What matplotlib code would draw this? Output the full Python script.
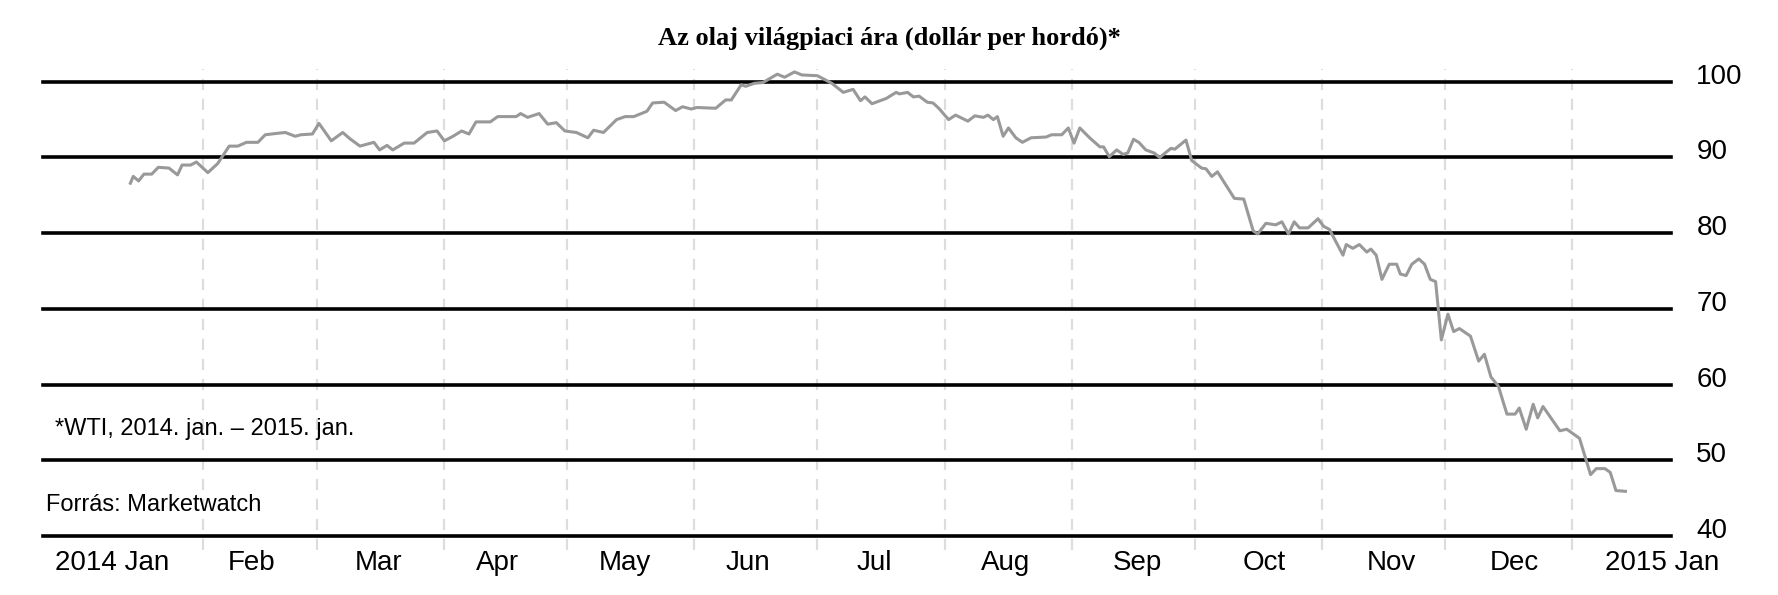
import matplotlib.pyplot as plt
import matplotlib.transforms as mtransforms
import numpy as np

# WTI price (day of 2014, USD per barrel)
days = [13.4, 14.1, 15.4, 16.7, 18.6, 20.2, 22.8, 24.9, 26, 28.1, 29.5, 32.3, 34.7, 37.5, 39.6,
        41.7, 44.5, 46.3, 49.4, 51.2, 53.6, 55, 57.8, 59.4, 62.4, 65.2, 66.9, 69.4, 72.8, 74.2,
        76, 77.4, 80.2, 82.6, 85.8, 88.2, 90, 92.1, 94.2, 96, 97.7, 101.2, 103, 107.5, 108.6,
        110.3, 113.1, 115.2, 117.3, 119.4, 122.2, 125, 126.4, 128.8, 132, 134.1, 136.2, 139.4,
        140.8, 143.6, 146.4, 148.1, 150.2, 151.6, 156.2, 158.6, 160, 162.4, 163.5, 165.6, 167.7,
        171.2, 173, 175.4, 177.2, 181, 184.5, 187.3, 189.7, 191.5, 192.6, 194.3, 197.8, 200.2,
        201, 203, 204.4, 205.8, 207.8, 209.2, 210.6, 213, 214.7, 217.7, 219.4, 221.5, 222.6,
        223.9, 224.9, 226.3, 227.6, 229.4, 231, 233.1, 236.8, 238.1, 240.6, 242.2, 243.6, 245,
        247.4, 249.9, 250.8, 252.2, 254, 255.6, 256.7, 258.1, 259.4, 261.1, 263.1, 264.5, 267.2,
        268.2, 270.9, 272.3, 274.7, 275.8, 277.2, 278.6, 282.7, 285, 287.3, 288.4, 290.4, 292.8,
        294.3, 295.9, 297.3, 298.6, 300.7, 303.1, 304.5, 305.9, 309.2, 310, 311.6, 313.2, 315,
        316, 317.3, 318.7, 320.5, 322.3, 323.2, 324.6, 326, 327.7, 329.1, 330.5, 331.8, 333.2,
        334.8, 336.2, 337.6, 340.3, 342.3, 343.7, 345.3, 347.1, 349.2, 351.2, 352.2, 353.9,
        355.6, 356.7, 358, 362.1, 363.8, 366.9, 369.6, 371, 373.1, 374.4, 375.8, 378.1]
price = [86.6, 87.5, 86.9, 87.8, 87.8, 88.7, 88.6, 87.7, 89, 89, 89.4, 88, 89.2, 91.5, 91.5,
         92, 92, 93, 93.2, 93.3, 92.8, 93, 93.1, 94.5, 92.2, 93.3, 92.5, 91.5, 92, 91,
         91.6, 91, 91.9, 91.9, 93.3, 93.5, 92.2, 92.8, 93.5, 93.1, 94.7, 94.7, 95.4, 95.4, 95.8,
         95.3, 95.8, 94.4, 94.6, 93.5, 93.3, 92.6, 93.6, 93.3, 95, 95.4, 95.4, 96.1,
         97.2, 97.3, 96.2, 96.7, 96.4, 96.6, 96.5, 97.6, 97.6, 99.6, 99.4, 99.8, 99.9,
         101, 100.6, 101.3, 100.9, 100.8, 99.8, 98.6, 99, 97.5, 98, 97.1, 97.8, 98.6,
         98.4, 98.6, 98, 98.1, 97.3, 97.2, 96.5, 95, 95.6, 94.8, 95.5, 95.3, 95.6,
         95, 95.4, 92.8, 93.9, 92.6, 92, 92.6, 92.7, 93, 93, 93.9, 91.9, 93.9,
         92.6, 91.4, 91.4, 90.1, 91, 90.4, 90.6, 92.4, 92, 91, 90.6, 90, 91.2,
         91.1, 92.3, 89.6, 88.6, 88.5, 87.5, 88.1, 84.6, 84.5, 80.3, 79.9, 81.3, 81.1,
         81.5, 79.9, 81.5, 80.7, 80.7, 81.9, 80.9, 80.5, 77.1, 78.5, 78, 78.5, 77.5,
         77.9, 77.1, 73.9, 75.9, 75.9, 74.6, 74.4, 75.9, 76.6, 75.9, 73.9, 73.6, 65.9,
         69.3, 67, 67.4, 66.4, 63.1, 64, 61, 59.8, 56.1, 56.1, 56.9, 54.1,
         57.4, 55.6, 57.1, 53.9, 54.1, 52.9, 48.1, 48.9, 48.9, 48.4, 46, 45.9]

month_starts = [31, 59, 90, 120, 151, 181, 212, 243, 273, 304, 334, 365]
label_pos = [9, 43, 74, 103, 134, 164, 195, 227, 259, 290, 321, 351, 387]
month_labels = ['2014 Jan', 'Feb', 'Mar', 'Apr', 'May', 'Jun', 'Jul', 'Aug', 'Sep',
                'Oct', 'Nov', 'Dec', '2015 Jan']
y_ticks = [40, 50, 60, 70, 80, 90, 100]

plt.rcParams['font.family'] = ['Liberation Sans', 'DejaVu Sans']

fig = plt.figure(figsize=(17.78, 5.95), dpi=100)
ax = fig.add_axes([0.024, 0.0992, 0.916, 0.785])

for m in month_starts:
    ax.axvline(m, color='#dddddd', lw=1.6, ls=(0, (5, 4)), zorder=1, ymin=-0.03, clip_on=False)
for y in y_ticks:
    ax.axhline(y, color='black', lw=2.6, zorder=2, clip_on=False)

ax.plot(days, price, color='#999999', lw=2.2, zorder=3)

ax.set_xlim(-8, 389.3)
ax.set_ylim(40, 101.7)
for s in ax.spines.values():
    s.set_visible(False)

ax.set_xticks(label_pos)
ax.set_xticklabels(month_labels, fontsize=20)
ax.yaxis.tick_right()
ax.set_yticks(y_ticks)
ax.set_yticklabels([str(v) for v in y_ticks], fontsize=20)
ax.tick_params(axis='both', length=0)
ax.tick_params(axis='x', pad=10)
ax.tick_params(axis='y', pad=18)
shift = mtransforms.ScaledTranslation(0, 8 / 100, fig.dpi_scale_trans)
for lbl in ax.get_yticklabels():
    lbl.set_transform(lbl.get_transform() + shift)

fig.text(0.5, 0.935, 'Az olaj világpiaci ára (dollár per hordó)*', ha='center', va='center',
         fontsize=19, fontweight='bold', family='Liberation Serif')
fig.text(0.031, 0.279, '*WTI, 2014. jan. \u2013 2015. jan.', ha='left', va='center', fontsize=17)
fig.text(0.026, 0.151, 'Forrás: Marketwatch', ha='left', va='center', fontsize=17)

fig.savefig('out.png', dpi=100)
